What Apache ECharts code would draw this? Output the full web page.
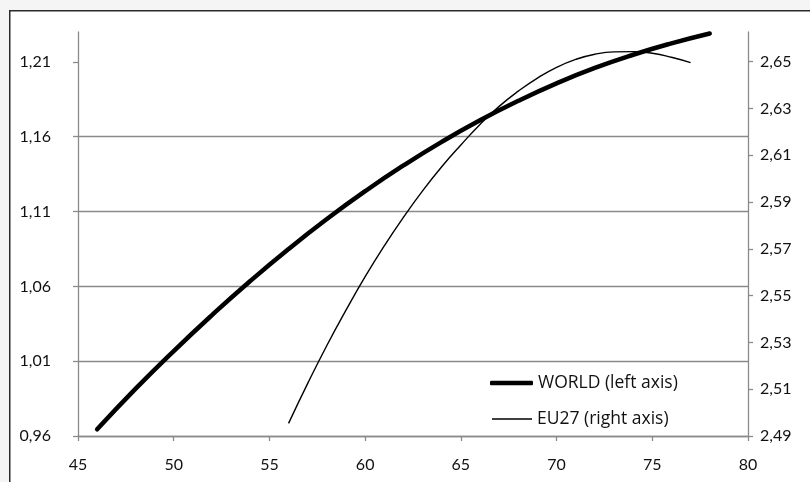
<!DOCTYPE html>
<html>
<head>
<meta charset="utf-8">
<script src="https://cdn.jsdelivr.net/npm/echarts@6/dist/echarts.min.js"></script>
<style>
  html, body { margin: 0; padding: 0; background: #f5f5f5; }
  #chart { width: 810px; height: 482px; }
</style>
</head>
<body>
<div id="chart"></div>
<script>
// WORLD series (left axis)
const worldX = [46, 48, 50, 52, 54, 56, 58, 60, 62, 64, 66, 68, 70, 72, 74, 76, 78];
const worldY = [0.9645, 0.9915, 1.0168, 1.0408, 1.0636, 1.085, 1.105, 1.1236, 1.1408, 1.1566, 1.171, 1.184, 1.1957, 1.206, 1.2148, 1.2224, 1.229];

// EU27 series (right axis)
const euX = [56, 57, 58, 59, 60, 61, 62, 63, 64, 65, 66, 67, 68, 69, 70, 71, 72, 73, 74, 75, 76, 77];
const euY = [2.4954, 2.5125, 2.5287, 2.5438, 2.5581, 2.5713, 2.5835, 2.5948, 2.6051, 2.6144, 2.6232, 2.6309, 2.6374, 2.643, 2.6476, 2.651, 2.6532, 2.6542, 2.6543, 2.6536, 2.6519, 2.6496];

// Axis ticks
const xTicks = [45, 50, 55, 60, 65, 70, 75, 80];
const leftTicks = [0.96, 1.01, 1.06, 1.11, 1.16, 1.21];
const rightTicks = [2.49, 2.51, 2.53, 2.55, 2.57, 2.59, 2.61, 2.63, 2.65];

const seriesNames = ['WORLD (left axis)', 'EU27 (right axis)'];

const FONT = 'Lato, "Open Sans", sans-serif';
const LEGEND_FONT = '"Open Sans", Lato, sans-serif';
const AXIS_GRAY = '#8a8a8a';
const TEXT = '#111111';

const pairs = (xs, ys) => xs.map((x, i) => [x, ys[i]]);
const comma = v => v.toFixed(2).replace('.', ',');

const chart = echarts.init(document.getElementById('chart'), null, { renderer: 'canvas' });

chart.setOption({
  animation: false,
  backgroundColor: 'transparent',
  graphic: [{
    type: 'rect',
    left: 9, top: 10, z: -10,
    shape: { x: 0, y: 0, width: 900, height: 600 },
    style: { fill: '#ffffff', stroke: '#2b2b2b', lineWidth: 1.5 }
  }],
  grid: { left: 78, right: 62, top: 32, bottom: 46 },
  legend: [{
    data: [{ name: seriesNames[0], icon: 'roundRect' }],
    left: 485, top: 369,
    itemWidth: 43, itemHeight: 4.5,
    textStyle: { fontFamily: LEGEND_FONT, fontSize: 17.5, color: TEXT },
    selectedMode: false
  }, {
    data: [{ name: seriesNames[1], icon: 'rect' }],
    left: 487, top: 405,
    itemWidth: 40, itemHeight: 1.3,
    textStyle: { fontFamily: LEGEND_FONT, fontSize: 17.5, color: TEXT },
    selectedMode: false
  }],
  xAxis: {
    type: 'value',
    min: 45, max: 80, interval: 5,
    axisLine: { show: true, lineStyle: { color: AXIS_GRAY, width: 1.3 } },
    axisTick: { show: true, inside: false, length: 5, customValues: xTicks, lineStyle: { color: AXIS_GRAY, width: 1.3 } },
    axisLabel: { customValues: xTicks, margin: 21, fontFamily: FONT, fontSize: 16, color: TEXT },
    splitLine: { show: false }
  },
  yAxis: [{
    type: 'value',
    position: 'left',
    min: 0.96, max: 1.23,
    axisLine: { show: true, lineStyle: { color: AXIS_GRAY, width: 1.3 } },
    axisTick: { show: true, inside: false, length: 5, customValues: leftTicks, lineStyle: { color: AXIS_GRAY, width: 1.3 } },
    axisLabel: { customValues: leftTicks, formatter: comma, margin: 27, fontFamily: FONT, fontSize: 16, color: TEXT },
    splitLine: { show: true, showMaxLine: false, lineStyle: { color: AXIS_GRAY, width: 1.3 } }
  }, {
    type: 'value',
    position: 'right',
    min: 2.49, max: 2.6627,
    axisLine: { show: true, lineStyle: { color: AXIS_GRAY, width: 1.3 } },
    axisTick: { show: true, inside: false, length: 5, customValues: rightTicks, lineStyle: { color: AXIS_GRAY, width: 1.3 } },
    axisLabel: { customValues: rightTicks, formatter: comma, margin: 12, fontFamily: FONT, fontSize: 16, color: TEXT },
    splitLine: { show: false }
  }],
  series: [{
    name: seriesNames[0],
    type: 'line',
    yAxisIndex: 0,
    data: pairs(worldX, worldY),
    smooth: 0.5,
    showSymbol: false,
    clip: false,
    color: '#000000',
    lineStyle: { color: '#000000', width: 4.5, cap: 'round', join: 'round' }
  }, {
    name: seriesNames[1],
    type: 'line',
    yAxisIndex: 1,
    data: pairs(euX, euY),
    smooth: 0.5,
    showSymbol: false,
    clip: false,
    color: '#000000',
    lineStyle: { color: '#000000', width: 1.4 }
  }]
});
</script>
</body>
</html>
